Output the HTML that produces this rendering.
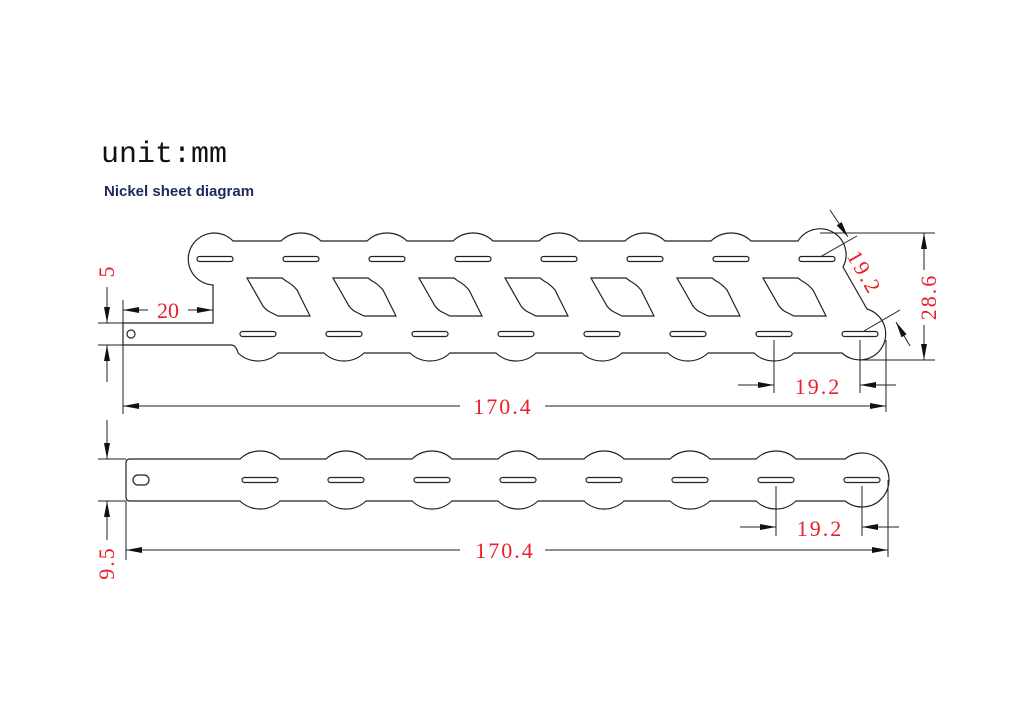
<!DOCTYPE html>
<html><head><meta charset="utf-8"><style>
body{margin:0;background:#fff;}
svg{display:block;}
.o{fill:none;stroke:#222;stroke-width:1.2;}
.d{fill:none;stroke:#222;stroke-width:1;}
.t{font-family:"Liberation Serif",serif;font-size:22px;fill:#e8202a;}
</style></head><body>
<svg width="1024" height="724" viewBox="0 0 1024 724">
<defs>
<marker id="a" markerWidth="16" markerHeight="8" refX="16" refY="4" orient="auto-start-reverse" markerUnits="userSpaceOnUse">
<path d="M0,1 L16,4 L0,7 Z" fill="#111"/></marker>
<path id="dm" d="M247,278 L282,278 L286,281 Q292,284 297,290 L310,316 L278,316 L270,312 Q266,310 263,306 Z"/>
<rect id="sl" x="-18" y="-2.5" width="36" height="5" rx="2.5"/>
</defs>
<text x="101" y="162" font-family="Liberation Mono,monospace" font-size="30" fill="#111">unit:mm</text>
<text x="104" y="196" font-family="Liberation Sans,sans-serif" font-size="15" fill="#1e2a5a" font-weight="bold">Nickel sheet diagram</text>

<!-- top strip outline -->
<path class="o" d="M123,323 L213,323 L213,285 A26,26 0 1 1 233,241
L281,241 A29,29 0 0 1 321,241 L367,241 A29,29 0 0 1 407,241 L453,241 A29,29 0 0 1 493,241 L539,241 A29,29 0 0 1 579,241 L625,241 A29,29 0 0 1 665,241 L711,241 A29,29 0 0 1 751,241 L798,241
A26,26 0 0 1 843,267 L867,309 A26,26 0 1 1 842,353
L794,353 A29,29 0 0 1 754,353 L708,353 A29,29 0 0 1 668,353 L622,353 A29,29 0 0 1 582,353 L536,353 A29,29 0 0 1 496,353 L450,353 A29,29 0 0 1 410,353 L364,353 A29,29 0 0 1 324,353 L278,353 A29,29 0 0 1 238,353 Q236,345 231,345 L123,345 Z"/>
<circle class="o" cx="131" cy="334" r="4"/>
<g class="o">
<use href="#sl" x="215" y="259"/><use href="#sl" x="301" y="259"/><use href="#sl" x="387" y="259"/><use href="#sl" x="473" y="259"/><use href="#sl" x="559" y="259"/><use href="#sl" x="645" y="259"/><use href="#sl" x="731" y="259"/><use href="#sl" x="817" y="259"/>
<use href="#sl" x="258" y="334"/><use href="#sl" x="344" y="334"/><use href="#sl" x="430" y="334"/><use href="#sl" x="516" y="334"/><use href="#sl" x="602" y="334"/><use href="#sl" x="688" y="334"/><use href="#sl" x="774" y="334"/><use href="#sl" x="860" y="334"/>
<use href="#dm"/><use href="#dm" x="86"/><use href="#dm" x="172"/><use href="#dm" x="258"/><use href="#dm" x="344"/><use href="#dm" x="430"/><use href="#dm" x="516"/>
</g>

<!-- top dims -->
<g class="d">
<line x1="98" y1="323" x2="123" y2="323"/><line x1="98" y1="345" x2="123" y2="345"/>
<line x1="107" y1="287" x2="107" y2="323" marker-end="url(#a)"/>
<line x1="107" y1="382" x2="107" y2="345" marker-end="url(#a)"/>
<line x1="123" y1="300" x2="123" y2="414"/>
<line x1="123" y1="310" x2="148" y2="310" marker-start="url(#a)"/>
<line x1="188" y1="310" x2="213" y2="310" marker-end="url(#a)"/>
<line x1="123" y1="406" x2="460" y2="406" marker-start="url(#a)"/>
<line x1="545" y1="406" x2="886" y2="406" marker-end="url(#a)"/>
<line x1="886" y1="340" x2="886" y2="412"/>
<line x1="774" y1="340" x2="774" y2="393"/><line x1="860" y1="340" x2="860" y2="393"/>
<line x1="738" y1="385" x2="774" y2="385" marker-end="url(#a)"/>
<line x1="896" y1="385" x2="860" y2="385" marker-end="url(#a)"/>
<line x1="820" y1="233" x2="935" y2="233"/><line x1="860" y1="360" x2="935" y2="360"/>
<line x1="924" y1="270" x2="924" y2="233" marker-end="url(#a)"/>
<line x1="924" y1="325" x2="924" y2="360" marker-end="url(#a)"/>
<line x1="820" y1="257" x2="857" y2="236"/>
<line x1="864" y1="331" x2="900" y2="310"/>
<line x1="830" y1="210" x2="848" y2="237" marker-end="url(#a)"/>
<line x1="910" y1="346" x2="896" y2="322" marker-end="url(#a)"/>
</g>
<text class="t" transform="translate(114,272) rotate(-90)" text-anchor="middle">5</text>
<text class="t" x="168" y="318" text-anchor="middle">20</text>
<text class="t" x="503" y="414" text-anchor="middle" letter-spacing="2">170.4</text>
<text class="t" x="818" y="394" text-anchor="middle" letter-spacing="2">19.2</text>
<text class="t" transform="translate(936,297) rotate(-90)" text-anchor="middle" letter-spacing="2">28.6</text>
<text class="t" transform="translate(858,276) rotate(60)" text-anchor="middle" letter-spacing="2">19.2</text>

<!-- bottom strip -->
<path class="o" d="M130,459 L240,459 A29,29 0 0 1 280,459 L326,459 A29,29 0 0 1 366,459 L412,459 A29,29 0 0 1 452,459 L498,459 A29,29 0 0 1 538,459 L584,459 A29,29 0 0 1 624,459 L670,459 A29,29 0 0 1 710,459 L756,459 A29,29 0 0 1 796,459 L845,459
A27,27 0 1 1 845,501 L796,501 A29,29 0 0 1 756,501 L710,501 A29,29 0 0 1 670,501 L624,501 A29,29 0 0 1 584,501 L538,501 A29,29 0 0 1 498,501 L452,501 A29,29 0 0 1 412,501 L366,501 A29,29 0 0 1 326,501 L280,501 A29,29 0 0 1 240,501 L130,501 Q126,501 126,497 L126,463 Q126,459 130,459 Z"/>
<rect class="o" x="133" y="475" width="16" height="10" rx="5"/>
<g class="o">
<use href="#sl" x="260" y="480"/><use href="#sl" x="346" y="480"/><use href="#sl" x="432" y="480"/><use href="#sl" x="518" y="480"/><use href="#sl" x="604" y="480"/><use href="#sl" x="690" y="480"/><use href="#sl" x="776" y="480"/><use href="#sl" x="862" y="480"/>
</g>
<g class="d">
<line x1="98" y1="459" x2="126" y2="459"/><line x1="98" y1="501" x2="126" y2="501"/>
<line x1="107" y1="420" x2="107" y2="459" marker-end="url(#a)"/>
<line x1="107" y1="540" x2="107" y2="501" marker-end="url(#a)"/>
<line x1="126" y1="501" x2="126" y2="560"/>
<line x1="126" y1="550" x2="460" y2="550" marker-start="url(#a)"/>
<line x1="545" y1="550" x2="888" y2="550" marker-end="url(#a)"/>
<line x1="888" y1="480" x2="888" y2="557"/>
<line x1="776" y1="486" x2="776" y2="536"/><line x1="862" y1="486" x2="862" y2="536"/>
<line x1="740" y1="527" x2="776" y2="527" marker-end="url(#a)"/>
<line x1="899" y1="527" x2="862" y2="527" marker-end="url(#a)"/>
</g>
<text class="t" transform="translate(114,563) rotate(-90)" text-anchor="middle" letter-spacing="2">9.5</text>
<text class="t" x="505" y="558" text-anchor="middle" letter-spacing="2">170.4</text>
<text class="t" x="820" y="536" text-anchor="middle" letter-spacing="2">19.2</text>
</svg>
</body></html>
